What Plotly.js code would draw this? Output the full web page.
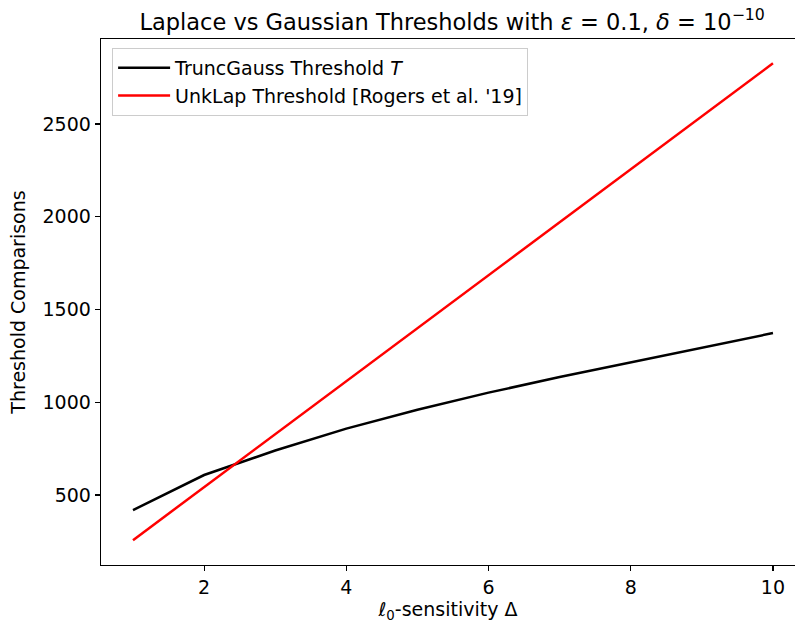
<!DOCTYPE html>
<html>
<head>
<meta charset="utf-8">
<script src="https://cdn.plot.ly/plotly-3.0.1.min.js"></script>
<style>
html,body{margin:0;padding:0;background:#fff;overflow:hidden;}
#chart{width:796px;height:623px;}
</style>
</head>
<body>
<div id="chart"></div>
<script>
// Data
const sensitivity = [1, 2, 3, 4, 5, 6, 7, 8, 9, 10];
const truncGaussT = [419, 608, 740, 858, 960, 1052, 1136, 1215, 1295, 1373];
const unkLapT = [257, 543, 828, 1114, 1399, 1685, 1970, 2256, 2541, 2827];
const seriesNames = ["TruncGauss Threshold <i>T</i>", "UnkLap Threshold [Rogers et al. '19]"];
const xTicks = [2, 4, 6, 8, 10];
const yTicks = [500, 1000, 1500, 2000, 2500];

const font = "DejaVu Sans, sans-serif";
const fs = 19;

const traces = [
  {x: sensitivity, y: truncGaussT, name: seriesNames[0], mode: "lines",
   line: {color: "#000000", width: 2.5}},
  {x: sensitivity, y: unkLapT, name: seriesNames[1], mode: "lines",
   line: {color: "#ff0000", width: 2.5}}
];

const layout = {
  width: 796, height: 623,
  margin: {l: 101, r: 1, t: 39, b: 58},
  paper_bgcolor: "#ffffff", plot_bgcolor: "#ffffff",
  font: {family: font, size: fs, color: "#000000"},
  title: {
    text: "Laplace vs Gaussian Thresholds with <i>ε</i> = 0.1, <i>δ</i> = 10<sup>−10</sup>",
    font: {family: font, size: 22.5, color: "#000000"},
    xref: "paper", x: 0.506, xanchor: "center",
    yref: "container", y: 0.965, yanchor: "middle"
  },
  xaxis: {
    range: [0.55, 10.31],
    tickvals: xTicks, ticktext: xTicks.map(String),
    ticks: "outside", ticklen: 5, tickwidth: 1.2, tickcolor: "#000",
    showline: true, linecolor: "#000", linewidth: 1.3, mirror: true,
    showgrid: false, zeroline: false,
    tickfont: {family: font, size: fs},
    title: {text: "<i>ℓ</i><sub>0</sub>-sensitivity Δ", font: {family: font, size: fs}, standoff: 2}
  },
  yaxis: {
    range: [123, 2958],
    tickvals: yTicks, ticktext: yTicks.map(String),
    ticks: "outside", ticklen: 5, tickwidth: 1.2, tickcolor: "#000",
    showline: true, linecolor: "#000", linewidth: 1.3, mirror: false,
    showgrid: false, zeroline: false,
    tickfont: {family: font, size: fs},
    title: {text: "Threshold Comparisons", font: {family: font, size: fs}, standoff: 12}
  },
  showlegend: true,
  legend: {
    x: 0.016, y: 0.983, xanchor: "left", yanchor: "top",
    bgcolor: "rgba(255,255,255,0.8)", bordercolor: "#cccccc", borderwidth: 1,
    font: {family: font, size: fs, color: "#000"},
    itemwidth: 52,
    tracegroupgap: 0
  }
};

Plotly.newPlot("chart", traces, layout, {staticPlot: true, displayModeBar: false});
</script>
</body>
</html>
